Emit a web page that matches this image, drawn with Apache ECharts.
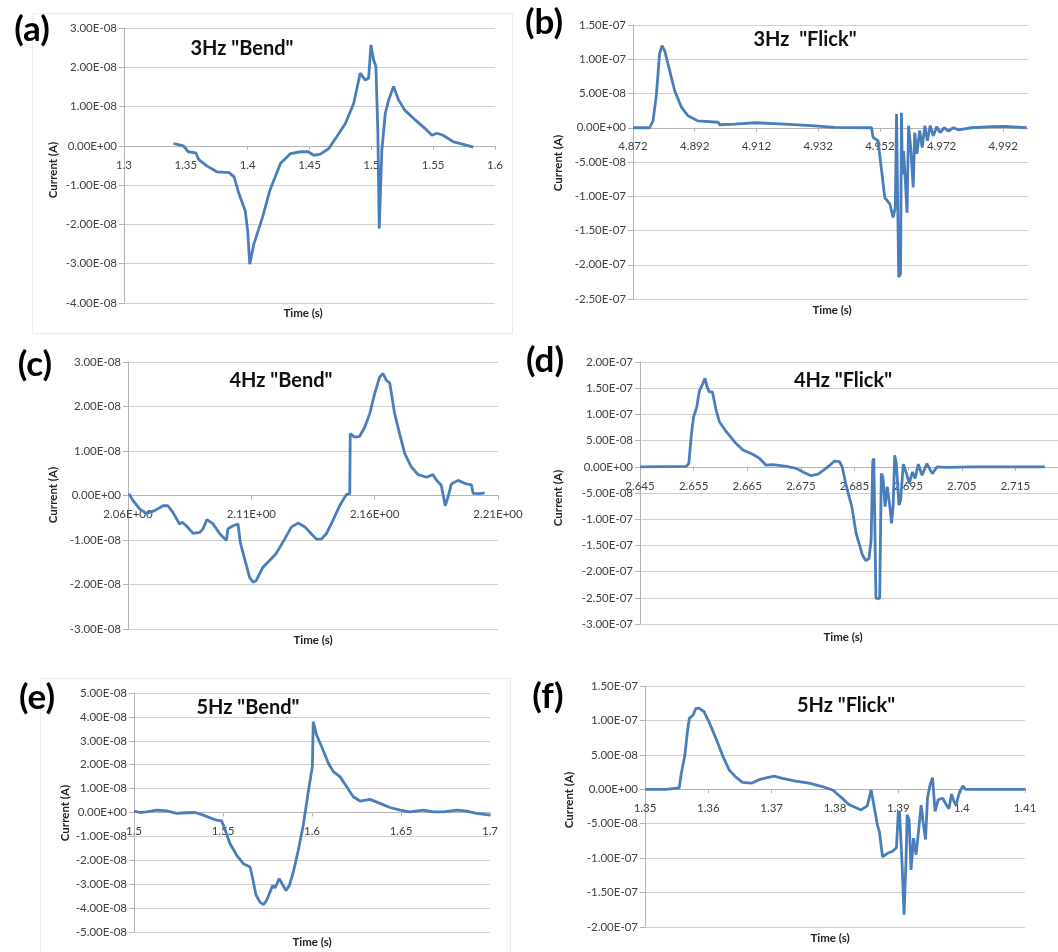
<!DOCTYPE html>
<html><head><meta charset="utf-8">
<script src="https://cdn.jsdelivr.net/npm/echarts@6/dist/echarts.min.js"></script>
<style>html,body{margin:0;padding:0;background:#fff}#c{width:1058px;height:952px}</style>
</head><body><div id="c"></div>
<script>
// ---- data: [time (s), current (A)] ----
const bend3Hz = [[1.340,0.06e-8],[1.348,0],[1.352,-0.15e-8],[1.358,-0.18e-8],[1.3605,-0.35e-8],[1.367,-0.51e-8],[1.375,-0.66e-8],[1.385,-0.68e-8],[1.389,-0.79e-8],[1.393,-1.22e-8],[1.398,-1.65e-8],[1.400,-2.16e-8],[1.4017,-3.01e-8],[1.405,-2.5e-8],[1.412,-1.82e-8],[1.418,-1.13e-8],[1.4265,-0.45e-8],[1.4345,-0.2e-8],[1.443,-0.15e-8],[1.449,-0.15e-8],[1.4534,-0.24e-8],[1.4588,-0.21e-8],[1.4655,-0.07e-8],[1.472,0.23e-8],[1.479,0.57e-8],[1.4857,1.08e-8],[1.491,1.85e-8],[1.495,1.68e-8],[1.4978,1.72e-8],[1.4997,2.57e-8],[1.5018,2.19e-8],[1.5037,2.02e-8],[1.5053,0.32e-8],[1.5064,-2.11e-8],[1.5085,-0.11e-8],[1.5113,0.83e-8],[1.514,1.17e-8],[1.518,1.51e-8],[1.522,1.17e-8],[1.527,0.91e-8],[1.5355,0.66e-8],[1.5435,0.44e-8],[1.549,0.27e-8],[1.553,0.32e-8],[1.558,0.27e-8],[1.5664,0.10e-8],[1.5745,0.04e-8],[1.5825,-0.03e-8]];
const flick3Hz = [[4.872,0],[4.8774,0],[4.8785,0.10e-7],[4.8796,0.49e-7],[4.8806,1.08e-7],[4.8814,1.20e-7],[4.8823,1.12e-7],[4.8839,0.83e-7],[4.8855,0.54e-7],[4.8877,0.30e-7],[4.8898,0.175e-7],[4.8931,0.10e-7],[4.8996,0.08e-7],[4.9001,0.044e-7],[4.905,0.054e-7],[4.9115,0.073e-7],[4.9212,0.054e-7],[4.9298,0.03e-7],[4.9374,0.005e-7],[4.9493,0],[4.9498,-0.14e-7],[4.9514,-0.19e-7],[4.9536,-1.02e-7],[4.9552,-1.11e-7],[4.9563,-1.31e-7],[4.957,-1.16e-7],[4.9574,0.2e-7],[4.9577,0.22e-7],[4.9581,-2.18e-7],[4.9587,-2.14e-7],[4.959,0.22e-7],[4.9593,-0.68e-7],[4.9597,-0.34e-7],[4.9603,-0.82e-7],[4.9608,-1.24e-7],[4.9613,0.03e-7],[4.962,-0.29e-7],[4.9628,-0.87e-7],[4.9633,-0.07e-7],[4.964,-0.38e-7],[4.9649,-0.04e-7],[4.9657,-0.29e-7],[4.9666,0.03e-7],[4.9674,-0.19e-7],[4.9683,0.03e-7],[4.9693,-0.12e-7],[4.9704,0.015e-7],[4.9715,-0.07e-7],[4.9729,0],[4.9742,-0.05e-7],[4.9758,0],[4.9774,-0.03e-7],[4.9817,0],[4.9882,0.015e-7],[4.9925,0.02e-7],[4.9996,0]];
const bend4Hz = [[2.0604,0.04e-8],[2.062,-0.11e-8],[2.0647,-0.30e-8],[2.0674,-0.40e-8],[2.0708,-0.34e-8],[2.0742,-0.23e-8],[2.0762,-0.23e-8],[2.0782,-0.38e-8],[2.0809,-0.64e-8],[2.082,-0.60e-8],[2.0836,-0.68e-8],[2.0864,-0.85e-8],[2.0891,-0.83e-8],[2.0904,-0.75e-8],[2.092,-0.54e-8],[2.0945,-0.64e-8],[2.0972,-0.86e-8],[2.0999,-1.01e-8],[2.1005,-0.75e-8],[2.1026,-0.68e-8],[2.1046,-0.64e-8],[2.1055,-1.05e-8],[2.1073,-1.43e-8],[2.1093,-1.84e-8],[2.1107,-1.95e-8],[2.112,-1.91e-8],[2.1147,-1.61e-8],[2.1174,-1.46e-8],[2.12,-1.31e-8],[2.1235,-0.98e-8],[2.1262,-0.71e-8],[2.1289,-0.62e-8],[2.1316,-0.70e-8],[2.1343,-0.86e-8],[2.1364,-0.98e-8],[2.1384,-0.98e-8],[2.1404,-0.86e-8],[2.1431,-0.56e-8],[2.1458,-0.23e-8],[2.1485,0.02e-8],[2.1499,0.04e-8],[2.1501,1.39e-8],[2.1519,1.31e-8],[2.1539,1.33e-8],[2.156,1.54e-8],[2.158,1.84e-8],[2.16,2.29e-8],[2.162,2.66e-8],[2.1634,2.74e-8],[2.1647,2.59e-8],[2.1661,2.53e-8],[2.1681,1.84e-8],[2.1701,1.39e-8],[2.1722,0.94e-8],[2.1749,0.64e-8],[2.1776,0.47e-8],[2.181,0.41e-8],[2.1836,0.47e-8],[2.185,0.35e-8],[2.187,0.23e-8],[2.1886,-0.23e-8],[2.1897,-0.04e-8],[2.1911,0.26e-8],[2.1938,0.34e-8],[2.1972,0.26e-8],[2.1992,0.24e-8],[2.1999,0.05e-8],[2.2026,0.04e-8],[2.2046,0.06e-8]];
const flick4Hz = [[2.645,0],[2.6536,0.01e-7],[2.6541,0.06e-7],[2.6546,0.64e-7],[2.655,0.95e-7],[2.6556,1.15e-7],[2.6561,1.46e-7],[2.6566,1.56e-7],[2.6571,1.69e-7],[2.6575,1.53e-7],[2.6579,1.43e-7],[2.6585,1.43e-7],[2.6592,1.08e-7],[2.6598,0.86e-7],[2.6611,0.67e-7],[2.6626,0.48e-7],[2.6642,0.32e-7],[2.666,0.24e-7],[2.6673,0.16e-7],[2.6685,0.03e-7],[2.6698,0.04e-7],[2.6723,0.01e-7],[2.6741,-0.03e-7],[2.6754,-0.10e-7],[2.6769,-0.17e-7],[2.6782,-0.14e-7],[2.6797,-0.03e-7],[2.6813,0.11e-7],[2.6822,0.10e-7],[2.6827,0],[2.6835,-0.38e-7],[2.6845,-0.76e-7],[2.6853,-1.27e-7],[2.6865,-1.69e-7],[2.6871,-1.79e-7],[2.6877,-1.75e-7],[2.6881,-1.40e-7],[2.6884,0.10e-7],[2.6886,0.16e-7],[2.689,-2.51e-7],[2.6893,-2.54e-7],[2.6897,-2.51e-7],[2.69,-0.13e-7],[2.6903,-0.19e-7],[2.6907,-0.76e-7],[2.6911,-0.38e-7],[2.6916,-0.76e-7],[2.6919,-1.08e-7],[2.6922,-0.76e-7],[2.6925,0.22e-7],[2.6928,0.06e-7],[2.6933,-0.73e-7],[2.6936,-0.64e-7],[2.6941,0.05e-7],[2.6947,-0.13e-7],[2.6952,-0.32e-7],[2.6958,-0.10e-7],[2.6963,-0.22e-7],[2.6969,0.05e-7],[2.6976,-0.16e-7],[2.6985,0.06e-7],[2.6995,-0.13e-7],[2.7004,0],[2.702,-0.01e-7],[2.707,0],[2.7132,0],[2.7205,0]];
const bend5Hz = [[1.5,0.06e-8],[1.5034,0],[1.5071,0.03e-8],[1.5127,0.10e-8],[1.5184,0.07e-8],[1.524,-0.04e-8],[1.5287,-0.01e-8],[1.5343,0],[1.539,-0.11e-8],[1.5436,-0.25e-8],[1.5464,-0.32e-8],[1.5492,-0.35e-8],[1.5506,-0.60e-8],[1.5539,-1.30e-8],[1.5577,-1.79e-8],[1.5614,-2.14e-8],[1.5652,-2.28e-8],[1.5667,-2.77e-8],[1.5685,-3.44e-8],[1.5708,-3.75e-8],[1.5727,-3.86e-8],[1.5745,-3.68e-8],[1.5779,-3.05e-8],[1.5792,-3.16e-8],[1.5816,-2.77e-8],[1.5835,-3.02e-8],[1.5854,-3.26e-8],[1.5873,-3.05e-8],[1.5895,-2.49e-8],[1.5923,-1.58e-8],[1.5951,-0.53e-8],[1.5979,0.87e-8],[1.6002,1.92e-8],[1.6007,3.80e-8],[1.6026,3.24e-8],[1.6054,2.76e-8],[1.6092,2.06e-8],[1.612,1.71e-8],[1.6157,1.50e-8],[1.6195,1.08e-8],[1.6232,0.66e-8],[1.627,0.48e-8],[1.6326,0.55e-8],[1.6382,0.38e-8],[1.6438,0.21e-8],[1.6494,0.10e-8],[1.655,0.03e-8],[1.6625,0.10e-8],[1.6682,0.03e-8],[1.6738,0.03e-8],[1.6813,0.10e-8],[1.6869,0.06e-8],[1.6925,-0.04e-8],[1.7,-0.11e-8]];
const flick5Hz = [[1.35,0],[1.3533,0],[1.3554,0.02e-7],[1.3557,0.21e-7],[1.3563,0.50e-7],[1.3567,0.84e-7],[1.357,1.03e-7],[1.3576,1.08e-7],[1.358,1.17e-7],[1.3585,1.18e-7],[1.3593,1.13e-7],[1.3601,0.98e-7],[1.3612,0.74e-7],[1.3622,0.50e-7],[1.3633,0.28e-7],[1.3643,0.18e-7],[1.3654,0.10e-7],[1.3669,0.09e-7],[1.368,0.14e-7],[1.3693,0.17e-7],[1.3704,0.19e-7],[1.3717,0.16e-7],[1.3738,0.12e-7],[1.3759,0.09e-7],[1.378,0.04e-7],[1.3796,-0.01e-7],[1.3809,-0.11e-7],[1.3822,-0.22e-7],[1.3841,-0.30e-7],[1.3851,-0.24e-7],[1.3857,-0.01e-7],[1.3859,-0.11e-7],[1.3867,-0.52e-7],[1.387,-0.61e-7],[1.3875,-0.98e-7],[1.3883,-0.93e-7],[1.3891,-0.90e-7],[1.3897,-0.85e-7],[1.39,-0.32e-7],[1.3902,-0.35e-7],[1.3906,-1.10e-7],[1.3909,-1.82e-7],[1.3912,-1.07e-7],[1.3914,-0.37e-7],[1.3917,-0.44e-7],[1.392,-1.17e-7],[1.3924,-0.71e-7],[1.3928,-0.95e-7],[1.3931,-0.69e-7],[1.3936,-0.23e-7],[1.3939,-0.47e-7],[1.3943,-0.73e-7],[1.3946,-0.13e-7],[1.395,0.06e-7],[1.3954,0.17e-7],[1.3958,-0.32e-7],[1.3963,-0.15e-7],[1.397,-0.13e-7],[1.3976,-0.23e-7],[1.398,-0.28e-7],[1.3984,-0.07e-7],[1.3988,-0.18e-7],[1.3991,-0.23e-7],[1.3997,-0.03e-7],[1.4002,0.05e-7],[1.4006,0],[1.4038,0],[1.4101,0]];

// ---- tick labels ----
const xTicksA = [1.3,1.35,1.4,1.45,1.5,1.55,1.6];
const xTicksB = [4.872,4.892,4.912,4.932,4.952,4.972,4.992];
const xTicksC = [2.06,2.11,2.16,2.21];
const xTicksD = [2.645,2.655,2.665,2.675,2.685,2.695,2.705,2.715];
const xTicksE = [1.5,1.55,1.6,1.65,1.7];
const xTicksF = [1.35,1.36,1.37,1.38,1.39,1.4,1.41];
const panelTitles = ['3Hz "Bend"','3Hz  "Flick"','4Hz "Bend"','4Hz "Flick"','5Hz "Bend"','5Hz "Flick"'];
const panelLetters = ['(a)','(b)','(c)','(d)','(e)','(f)'];
const xName = 'Time (s)';
const yName = 'Current (A)';

function sci(v){
  if (Math.abs(v) < 1e-15) v = 0;
  let s = v.toExponential(2);
  s = s.replace(/e([+-])(\d)$/, 'e$10$2');
  return s.toUpperCase();
}

const series = [bend3Hz, flick3Hz, bend4Hz, flick4Hz, bend5Hz, flick5Hz];
const xTicks = [xTicksA, xTicksB, xTicksC, xTicksD, xTicksE, xTicksF];
// layout
const grids = [
  {left:124, top:28, width:371, height:275},
  {left:633, top:25, width:395, height:274},
  {left:128, top:362, width:370, height:267},
  {left:640, top:362, width:429, height:262},
  {left:134, top:693, width:356, height:239},
  {left:645, top:686, width:380, height:241}
];
const xr = [[1.3,1.6],[4.872,5.0],[2.06,2.21],[2.645,2.725],[1.5,1.7],[1.35,1.41]];
const yr = [[-4e-8,3e-8,1e-8],[-2.5e-7,1.5e-7,0.5e-7],[-3e-8,3e-8,1e-8],[-3e-7,2e-7,0.5e-7],[-5e-8,5e-8,1e-8],[-2e-7,1.5e-7,0.5e-7]];
const letterPos = [[32,30],[544,23],[35,365],[545,361],[37,698],[548,697]];
const titlePos = [[242,49],[805,40],[281,381],[843,381],[248,708],[846,706]];
const xNamePos = [[303,313],[832,310],[313,640],[843,637],[312,942],[830,938]];
const yNamePos = [[53,170],[558,163],[53,495],[558,498],[65,813],[569,800]];

const FONT = 'Lato, "Noto Sans", sans-serif';
const gridLine = '#d0d0d0';
const axisCol = '#b4b4b4';
const txt = '#404040';
const lineCol = '#4a7ebb';

const option = {
  animation:false,
  backgroundColor:'#fff',
  grid: grids.map(g => Object.assign({outerBoundsMode:'none', containLabel:false}, g)),
  xAxis: grids.map((g,i) => ({
    type:'value', gridIndex:i, min:xr[i][0], max:xr[i][1], position:'bottom',
    // place the x axis on the zero line (offset measured up from the plot bottom)
    offset: -g.height * (-yr[i][0]) / (yr[i][1] - yr[i][0]),
    axisLine:{show:true, onZero:false, lineStyle:{color:axisCol, width:1}},
    axisTick:{show:true, length:4, customValues:xTicks[i], lineStyle:{color:axisCol}},
    axisLabel:{customValues:xTicks[i], color:txt, fontFamily:FONT, fontSize:11.5, margin:13,
      formatter: i===2 ? (v => sci(v)) : (v => String(+v.toFixed(4)))},
    splitLine:{show:false}
  })),
  yAxis: grids.map((g,i) => ({
    type:'value', gridIndex:i, min:yr[i][0], max:yr[i][1], interval:yr[i][2],
    axisLine:{show:true, onZero:false, lineStyle:{color:axisCol, width:1}},
    axisTick:{show:true, length:5, lineStyle:{color:axisCol}},
    axisLabel:{color:txt, fontFamily:FONT, fontSize:11.5, margin:7, formatter: v => sci(v)},
    splitLine:{show:true, lineStyle:{color:gridLine, width:1}}
  })),
  series: series.map((d,i) => ({
    type:'line', xAxisIndex:i, yAxisIndex:i, data:d, showSymbol:false, symbol:'none',
    lineStyle:{color:lineCol, width:2.8}, smooth:false
  })),
  graphic: [].concat(
    [
      {type:'rect', shape:{x:32.5,y:13.5,width:480,height:320}, style:{fill:null, stroke:'#ececec', lineWidth:1}, z:-1},
      {type:'rect', shape:{x:40.5,y:678.5,width:470,height:290}, style:{fill:null, stroke:'#ececec', lineWidth:1}, z:-1}
    ],
    panelLetters.map((t,i) => ({type:'text', x:letterPos[i][0], y:letterPos[i][1],
      style:{text:t, fontFamily:FONT, fontWeight:'bold', fontSize:35, fill:'#000', textAlign:'center', textVerticalAlign:'middle'}})),
    panelTitles.map((t,i) => ({type:'text', x:titlePos[i][0], y:titlePos[i][1],
      style:{text:t, fontFamily:FONT, fontWeight:'bold', fontSize:20, fill:'#111', textAlign:'center', textVerticalAlign:'middle'}})),
    xNamePos.map(p => ({type:'text', x:p[0], y:p[1],
      style:{text:xName, fontFamily:FONT, fontWeight:'bold', fontSize:11.5, fill:'#222', textAlign:'center', textVerticalAlign:'middle'}})),
    yNamePos.map(p => ({type:'text', x:p[0], y:p[1], rotation:Math.PI/2,
      style:{text:yName, fontFamily:FONT, fontWeight:'bold', fontSize:11.5, fill:'#222', textAlign:'center', textVerticalAlign:'middle'}}))
  )
};
const chart = echarts.init(document.getElementById('c'), null, {renderer:'canvas'});
chart.setOption(option);
</script></body></html>
